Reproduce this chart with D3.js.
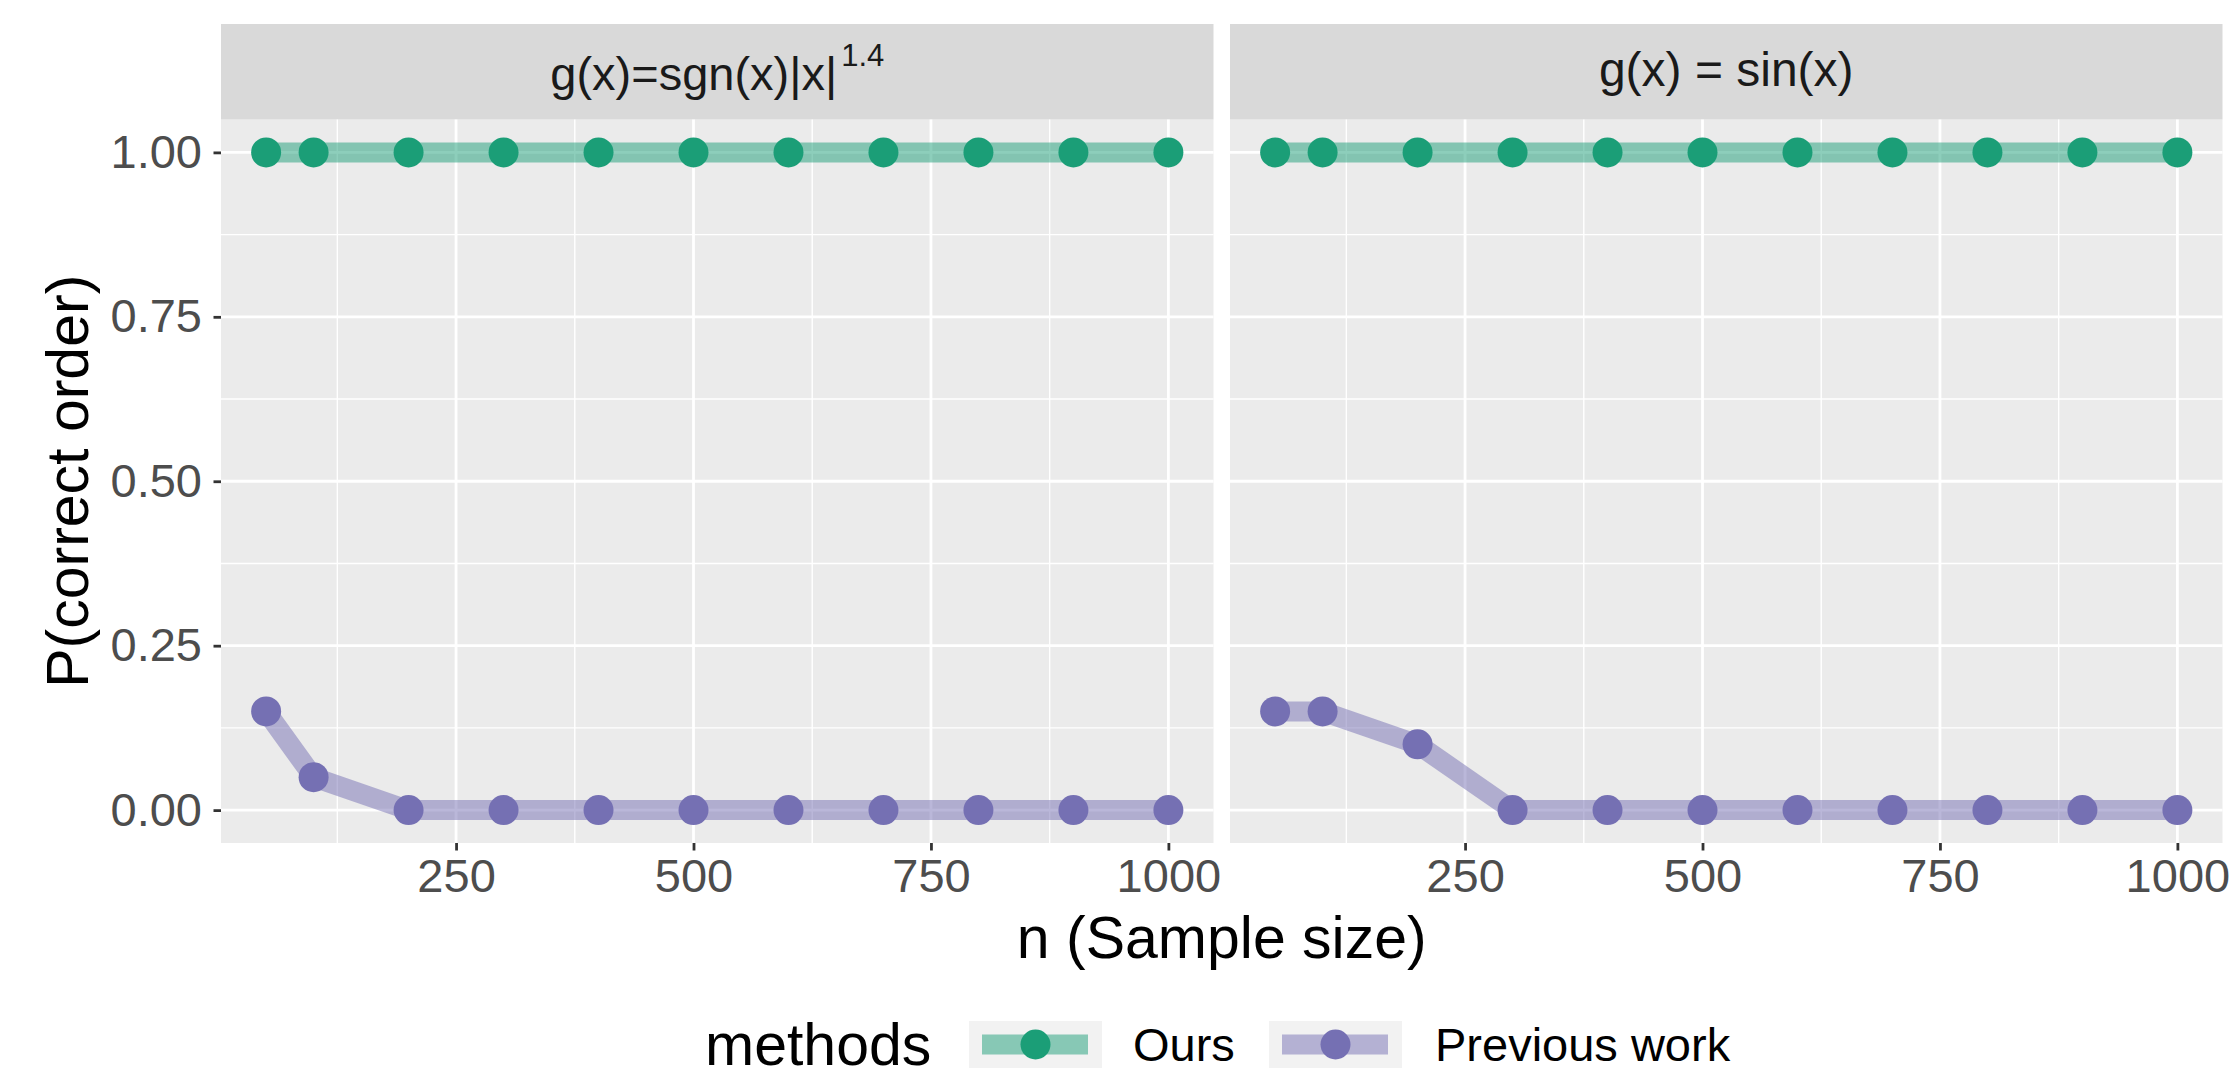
<!DOCTYPE html>
<html>
<head>
<meta charset="utf-8">
<script src="https://cdn.jsdelivr.net/npm/d3@7"></script>
<style>
  body { margin: 0; background: #fff; }
  text { font-family: "Liberation Sans", Arial, Helvetica, sans-serif; }
</style>
</head>
<body>
<script>
// sample sizes on the x axis
var sampleSizes = [50, 100, 200, 300, 400, 500, 600, 700, 800, 900, 1000];

// P(correct order) per method, one array per panel
var oursPow  = [1, 1, 1, 1, 1, 1, 1, 1, 1, 1, 1];
var prevPow  = [0.15, 0.05, 0, 0, 0, 0, 0, 0, 0, 0, 0];
var oursSin  = [1, 1, 1, 1, 1, 1, 1, 1, 1, 1, 1];
var prevSin  = [0.15, 0.15, 0.10, 0, 0, 0, 0, 0, 0, 0, 0];

var methodNames  = ['Ours', 'Previous work'];
var methodColors = ['#1B9E77', '#7570B3'];

var xTicks = [250, 500, 750, 1000];
var xMinor = [125, 375, 625, 875];
var yTicks = [0, 0.25, 0.5, 0.75, 1];
var yMinor = [0.125, 0.375, 0.625, 0.875];

var panels = [
    { key: 'pow', series: [oursPow, prevPow] },
    { key: 'sin', series: [oursSin, prevSin] }
];

var width = 2232, height = 1078;
var panelX = [[221, 1213.5], [1230, 2222.5]];
var stripTop = 24, panelTop = 119.5, panelBottom = 843;

var svg = d3.select('body').append('svg')
        .attr('width', width)
        .attr('height', height);

var y = d3.scaleLinear().domain([-0.05, 1.05]).range([panelBottom, panelTop]);

var line = function (xs) {
    return d3.line()
        .x(function (d, i) { return xs(sampleSizes[i]); })
        .y(function (d) { return y(d); });
};

panels.forEach(function (p, pi) {
    var x = d3.scaleLinear().domain([2.5, 1047.5]).range(panelX[pi]);
    var g = svg.append('g');

    // panel background
    g.append('rect')
        .attr('x', panelX[pi][0]).attr('y', panelTop)
        .attr('width', panelX[pi][1] - panelX[pi][0])
        .attr('height', panelBottom - panelTop)
        .attr('fill', '#EBEBEB');

    // strip
    g.append('rect')
        .attr('x', panelX[pi][0]).attr('y', stripTop)
        .attr('width', panelX[pi][1] - panelX[pi][0])
        .attr('height', panelTop - stripTop)
        .attr('fill', '#D9D9D9');

    var cx = (panelX[pi][0] + panelX[pi][1]) / 2;
    if (p.key == 'pow') {
        var t = g.append('text')
            .attr('x', cx).attr('y', 90)
            .attr('text-anchor', 'middle')
            .attr('font-size', 47)
            .attr('fill', '#1A1A1A');
        t.append('tspan').text('g(x)=sgn(x)|x|');
        t.append('tspan').attr('dx', 4).attr('dy', -24).attr('font-size', 31).text('1.4');
    } else {
        g.append('text')
            .attr('x', cx).attr('y', 86)
            .attr('text-anchor', 'middle')
            .attr('font-size', 48)
            .attr('fill', '#1A1A1A')
            .attr('xml:space', 'preserve')
            .text('g(x) = sin(x)');
    }

    // grid
    g.selectAll('.xminor').data(xMinor).enter().append('line')
        .attr('x1', x).attr('x2', x)
        .attr('y1', panelTop).attr('y2', panelBottom)
        .attr('stroke', '#fff').attr('stroke-width', 1.4);
    g.selectAll('.yminor').data(yMinor).enter().append('line')
        .attr('x1', panelX[pi][0]).attr('x2', panelX[pi][1])
        .attr('y1', y).attr('y2', y)
        .attr('stroke', '#fff').attr('stroke-width', 1.4);
    g.selectAll('.xmajor').data(xTicks).enter().append('line')
        .attr('x1', x).attr('x2', x)
        .attr('y1', panelTop).attr('y2', panelBottom)
        .attr('stroke', '#fff').attr('stroke-width', 2.8);
    g.selectAll('.ymajor').data(yTicks).enter().append('line')
        .attr('x1', panelX[pi][0]).attr('x2', panelX[pi][1])
        .attr('y1', y).attr('y2', y)
        .attr('stroke', '#fff').attr('stroke-width', 2.8);

    // lines then points
    p.series.forEach(function (vals, si) {
        g.append('path')
            .datum(vals)
            .attr('d', line(x))
            .attr('fill', 'none')
            .attr('stroke', methodColors[si])
            .attr('stroke-opacity', 0.5)
            .attr('stroke-width', 20)
            .attr('stroke-linejoin', 'round');
    });
    p.series.forEach(function (vals, si) {
        g.selectAll('.pt' + si).data(vals).enter().append('circle')
            .attr('cx', function (d, i) { return x(sampleSizes[i]); })
            .attr('cy', function (d) { return y(d); })
            .attr('r', 15)
            .attr('fill', methodColors[si]);
    });

    // x axis
    var xa = svg.append('g')
        .attr('transform', 'translate(0,' + panelBottom + ')')
        .call(d3.axisBottom(x).tickValues(xTicks).tickSize(7.5).tickPadding(8.5).tickFormat(d3.format('d')));
    xa.select('.domain').remove();
    xa.selectAll('line').attr('stroke', '#333333').attr('stroke-width', 2.8);
    xa.selectAll('text').attr('font-size', 47).attr('fill', '#4D4D4D')
        .attr('font-family', '"Liberation Sans", Arial, sans-serif');
});

// y axis (left panel only)
var ya = svg.append('g')
    .attr('transform', 'translate(' + panelX[0][0] + ',0)')
    .call(d3.axisLeft(y).tickValues(yTicks).tickSize(7.5).tickPadding(11.5).tickFormat(d3.format('.2f')));
ya.select('.domain').remove();
ya.selectAll('line').attr('stroke', '#333333').attr('stroke-width', 2.8);
ya.selectAll('text').attr('font-size', 47).attr('fill', '#4D4D4D')
    .attr('font-family', '"Liberation Sans", Arial, sans-serif');

// axis titles
svg.append('text')
    .attr('x', (panelX[0][0] + panelX[1][1]) / 2).attr('y', 958)
    .attr('text-anchor', 'middle')
    .attr('font-size', 59)
    .text('n (Sample size)');

svg.append('text')
    .attr('transform', 'translate(88,' + ((panelTop + panelBottom) / 2) + ') rotate(-90)')
    .attr('text-anchor', 'middle')
    .attr('font-size', 59)
    .text('P(correct order)');

// legend
svg.append('text')
    .attr('x', 705).attr('y', 1065)
    .attr('font-size', 59)
    .text('methods');

var keyX = [969, 1269];
var labelX = [1133, 1435];
methodNames.forEach(function (name, i) {
    var k = svg.append('g').attr('transform', 'translate(' + keyX[i] + ',1021)');
    k.append('rect').attr('width', 133).attr('height', 47).attr('fill', '#F2F2F2');
    k.append('line')
        .attr('x1', 13).attr('x2', 119)
        .attr('y1', 23.5).attr('y2', 23.5)
        .attr('stroke', methodColors[i]).attr('stroke-opacity', 0.5)
        .attr('stroke-width', 20);
    k.append('circle').attr('cx', 66.5).attr('cy', 23.5).attr('r', 15).attr('fill', methodColors[i]);
    svg.append('text')
        .attr('x', labelX[i]).attr('y', 1061)
        .attr('font-size', 47)
        .text(name);
});
</script>
</body>
</html>
